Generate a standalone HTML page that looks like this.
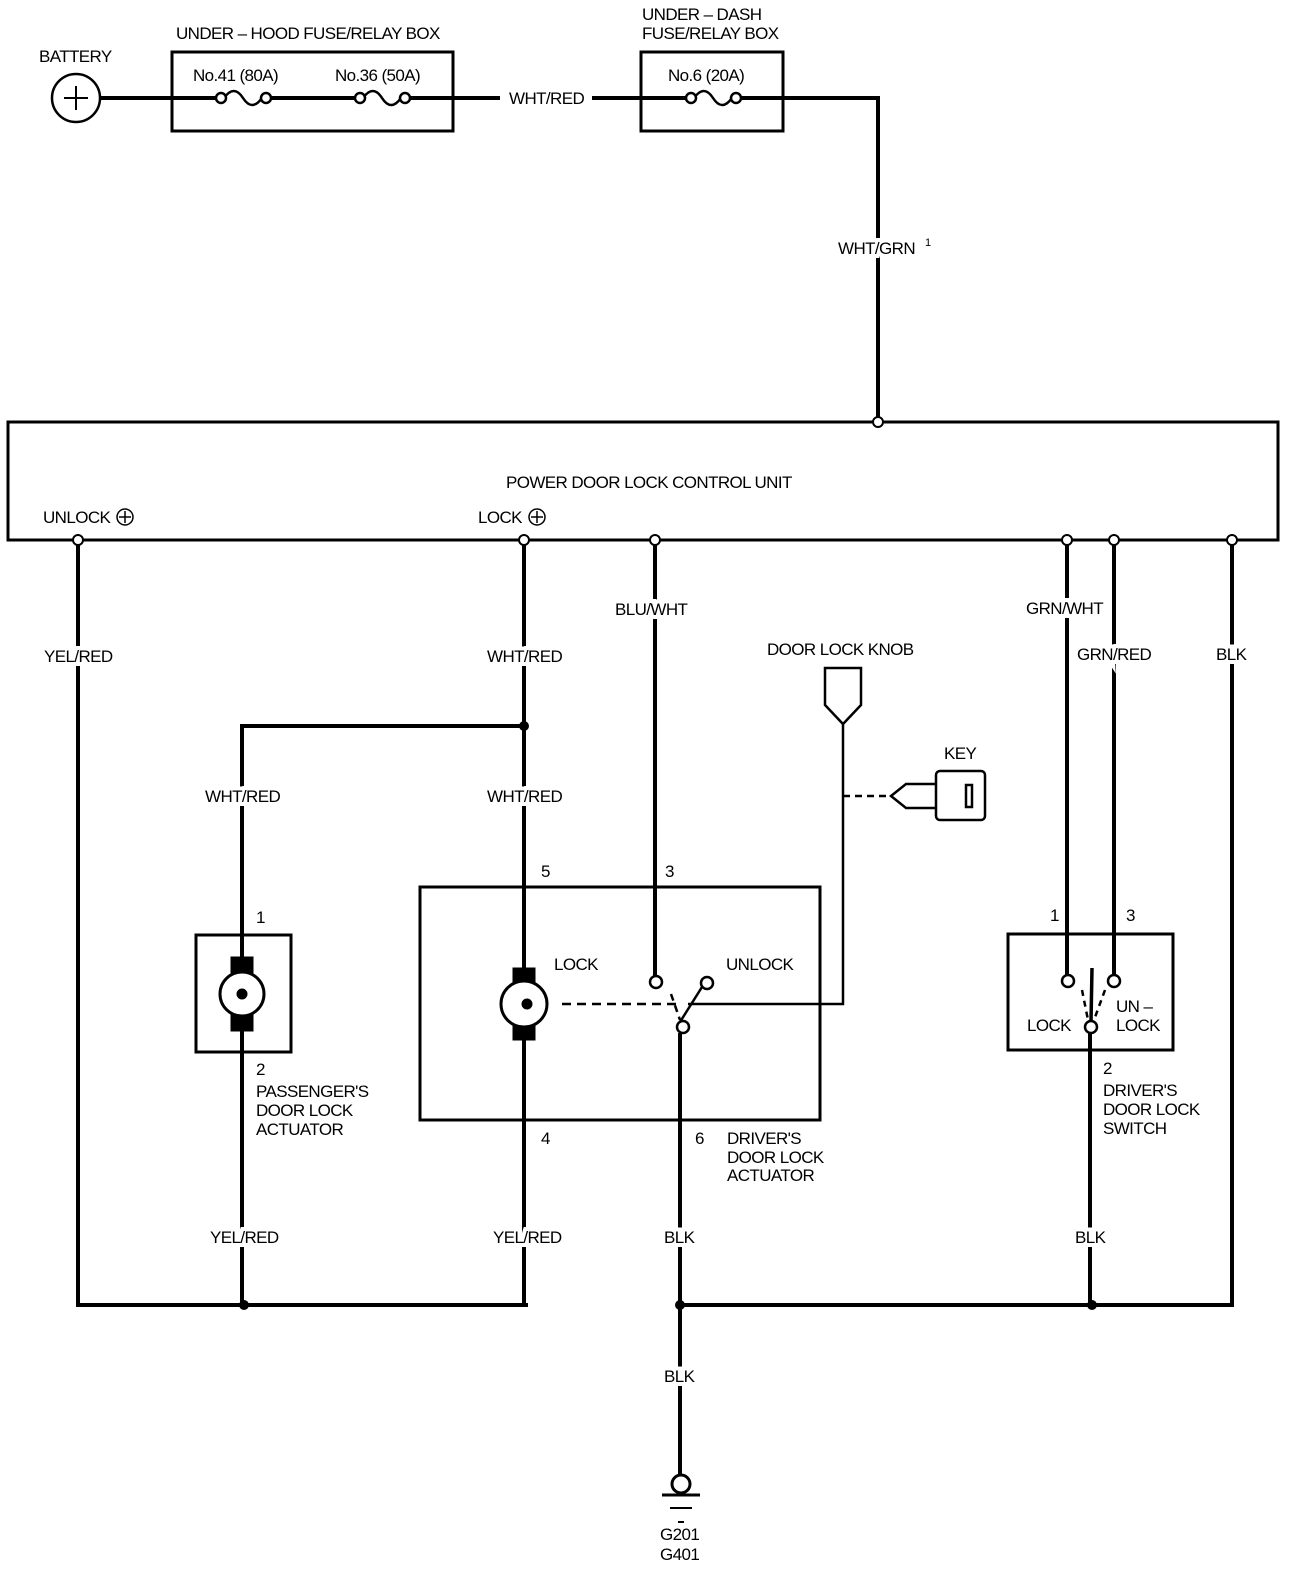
<!DOCTYPE html>
<html><head><meta charset="utf-8"><style>
html,body{margin:0;padding:0;background:#fff;overflow:hidden;width:1312px;height:1578px;}
svg{display:block;}
svg text{font-family:"Liberation Sans",sans-serif;font-size:17px;fill:#000;letter-spacing:-0.6px;}
.w{paint-order:stroke;stroke:#fff;stroke-width:8px;}
</style></head><body>
<svg width="1312" height="1578" viewBox="0 0 1312 1578" xmlns="http://www.w3.org/2000/svg">
<g fill="none" stroke="#000" stroke-width="4">
<line x1="100" y1="98" x2="218" y2="98"/>
<line x1="268" y1="98" x2="357" y2="98"/>
<line x1="408" y1="98" x2="500" y2="98"/>
<line x1="592" y1="98" x2="688" y2="98"/>
<polyline points="737,98 878,98 878,422"/>
<rect x="172" y="52" width="281" height="79" stroke-width="3"/>
<rect x="641" y="52" width="142" height="79" stroke-width="3"/>
<rect x="8" y="422" width="1270" height="118" stroke-width="3"/>
<rect x="420" y="887" width="400" height="233" stroke-width="3"/>
<rect x="196" y="935" width="95" height="117" stroke-width="3"/>
<rect x="1008" y="934" width="165" height="116" stroke-width="3"/>
<line x1="78" y1="540" x2="78" y2="1305"/>
<line x1="524" y1="540" x2="524" y2="1305"/>
<polyline points="524,726 242,726 242,1305"/>
<line x1="76" y1="1305" x2="528" y2="1305"/>
<line x1="655" y1="540" x2="655" y2="976"/>
<line x1="680" y1="1033" x2="680" y2="1477"/>
<line x1="680" y1="1305" x2="1234" y2="1305"/>
<line x1="1232" y1="540" x2="1232" y2="1305"/>
<line x1="1067" y1="540" x2="1067" y2="975"/>
<line x1="1114" y1="540" x2="1114" y2="975"/>
<line x1="1090" y1="1033" x2="1090" y2="1305"/>
</g>
<g fill="#fff" stroke="#000" stroke-width="2.5">
<circle cx="76" cy="98" r="24"/>
<path d="M224,98 q10,-14 19,0 t19,0" fill="none"/>
<circle cx="221" cy="98" r="5"/><circle cx="266" cy="98" r="5"/>
<path d="M363,98 q10,-14 19,0 t19,0" fill="none"/>
<circle cx="360" cy="98" r="5"/><circle cx="405" cy="98" r="5"/>
<path d="M694,98 q10,-14 19,0 t19,0" fill="none"/>
<circle cx="691" cy="98" r="5"/><circle cx="736" cy="98" r="5"/>
</g>
<g stroke="#000" stroke-width="2"><line x1="64" y1="98" x2="88" y2="98"/><line x1="76" y1="86" x2="76" y2="110"/></g>
<g fill="#fff" stroke="#000" stroke-width="2">
<circle cx="878" cy="422" r="5"/>
<circle cx="78" cy="540" r="5"/><circle cx="524" cy="540" r="5"/><circle cx="655" cy="540" r="5"/>
<circle cx="1067" cy="540" r="5"/><circle cx="1114" cy="540" r="5"/><circle cx="1232" cy="540" r="5"/>
</g>
<g fill="#000"><circle cx="524" cy="726" r="5"/><circle cx="244" cy="1305" r="5"/><circle cx="680" cy="1305" r="5"/><circle cx="1092" cy="1305" r="5"/></g>
<g stroke="#000">
<rect x="231" y="957" width="22" height="74" fill="#000"/>
<circle cx="242" cy="994" r="22" fill="#fff" stroke-width="3"/>
<circle cx="242" cy="994" r="5" fill="#000"/>
<rect x="513" y="968" width="22" height="72" fill="#000"/>
<circle cx="524" cy="1004" r="23" fill="#fff" stroke-width="3"/>
<circle cx="527" cy="1004" r="5" fill="#000"/>
</g>
<g stroke="#000" stroke-width="2.5" fill="none">
<line x1="562" y1="1004" x2="680" y2="1004" stroke-dasharray="9,6"/>
<polyline points="688,1004 843,1004 843,724"/>
<line x1="671" y1="994" x2="680" y2="1020" stroke-dasharray="7,5"/>
<line x1="680" y1="1022" x2="702" y2="987"/>
<line x1="1082" y1="990" x2="1088" y2="1020" stroke-dasharray="6,5"/>
<line x1="1105" y1="990" x2="1094" y2="1020" stroke-dasharray="6,5"/>
<line x1="1091" y1="1022" x2="1092" y2="968" stroke-width="3.5"/>
</g>
<g fill="#fff" stroke="#000" stroke-width="2.5">
<circle cx="656" cy="982" r="6"/><circle cx="707" cy="983" r="6"/><circle cx="683" cy="1027" r="6"/>
<circle cx="1068" cy="981" r="6"/><circle cx="1114" cy="981" r="6"/><circle cx="1091" cy="1027" r="6"/>
</g>
<g stroke="#000" stroke-width="2.5" fill="#fff">
<path d="M825,668 L861,668 L861,705 L843,724 L825,705 Z"/>
<line x1="843" y1="796" x2="888" y2="796" stroke-dasharray="7,5"/>
<path d="M936,784 L906,784 L891,796 L906,808 L936,808"/>
<rect x="936" y="771" width="49" height="49" rx="4"/>
<rect x="966" y="785" width="6" height="22"/>
</g>
<g stroke="#000">
<circle cx="681" cy="1484" r="9" fill="#fff" stroke-width="3"/>
<line x1="662" y1="1495" x2="700" y2="1495" stroke-width="3"/>
<line x1="670" y1="1508" x2="692" y2="1508" stroke-width="2"/>
<line x1="678" y1="1522" x2="684" y2="1522" stroke-width="2"/>
</g>
<text x="39" y="62">BATTERY</text>
<text x="176" y="39">UNDER – HOOD FUSE/RELAY BOX</text>
<text x="193" y="81">No.41 (80A)</text>
<text x="335" y="81">No.36 (50A)</text>
<text x="509" y="104">WHT/RED</text>
<text x="642" y="20">UNDER – DASH</text>
<text x="642" y="39">FUSE/RELAY BOX</text>
<text x="668" y="81">No.6 (20A)</text>
<text class="w" x="838" y="254">WHT/GRN</text><text x="925" y="246" style="font-size:11px">1</text>
<text x="506" y="488">POWER DOOR LOCK CONTROL UNIT</text>
<text x="43" y="523">UNLOCK</text>
<text x="478" y="523">LOCK</text>
<g stroke="#000" stroke-width="1.5" fill="none"><circle cx="125" cy="517" r="8"/><line x1="119" y1="517" x2="131" y2="517"/><line x1="125" y1="511" x2="125" y2="523"/>
<circle cx="537" cy="517" r="8"/><line x1="531" y1="517" x2="543" y2="517"/><line x1="537" y1="511" x2="537" y2="523"/></g>
<text class="w" x="44" y="662">YEL/RED</text>
<text class="w" x="487" y="662">WHT/RED</text>
<text class="w" x="615" y="615">BLU/WHT</text>
<text x="767" y="655">DOOR LOCK KNOB</text>
<text class="w" x="1026" y="614">GRN/WHT</text>
<text class="w" x="1077" y="660">GRN/RED</text>
<text class="w" x="1216" y="660">BLK</text>
<text x="944" y="759">KEY</text>
<text class="w" x="205" y="802">WHT/RED</text>
<text class="w" x="487" y="802">WHT/RED</text>
<text x="541" y="877">5</text>
<text x="665" y="877">3</text>
<text x="256" y="923">1</text>
<text x="1050" y="921">1</text>
<text x="1126" y="921">3</text>
<text x="554" y="970">LOCK</text>
<text x="726" y="970">UNLOCK</text>
<text x="1116" y="1012">UN –</text>
<text x="1027" y="1031">LOCK</text>
<text x="1116" y="1031">LOCK</text>
<text x="256" y="1075">2</text>
<text x="256" y="1097">PASSENGER'S</text>
<text x="256" y="1116">DOOR LOCK</text>
<text x="256" y="1135">ACTUATOR</text>
<text x="1103" y="1074">2</text>
<text x="1103" y="1096">DRIVER'S</text>
<text x="1103" y="1115">DOOR LOCK</text>
<text x="1103" y="1134">SWITCH</text>
<text x="541" y="1144">4</text>
<text x="695" y="1144">6</text>
<text x="727" y="1144">DRIVER'S</text>
<text x="727" y="1163">DOOR LOCK</text>
<text x="727" y="1181">ACTUATOR</text>
<text class="w" x="210" y="1243">YEL/RED</text>
<text class="w" x="493" y="1243">YEL/RED</text>
<text class="w" x="664" y="1243">BLK</text>
<text class="w" x="1075" y="1243">BLK</text>
<text class="w" x="664" y="1382">BLK</text>
<text x="660" y="1540">G201</text>
<text x="660" y="1560">G401</text>
</svg>
</body></html>
